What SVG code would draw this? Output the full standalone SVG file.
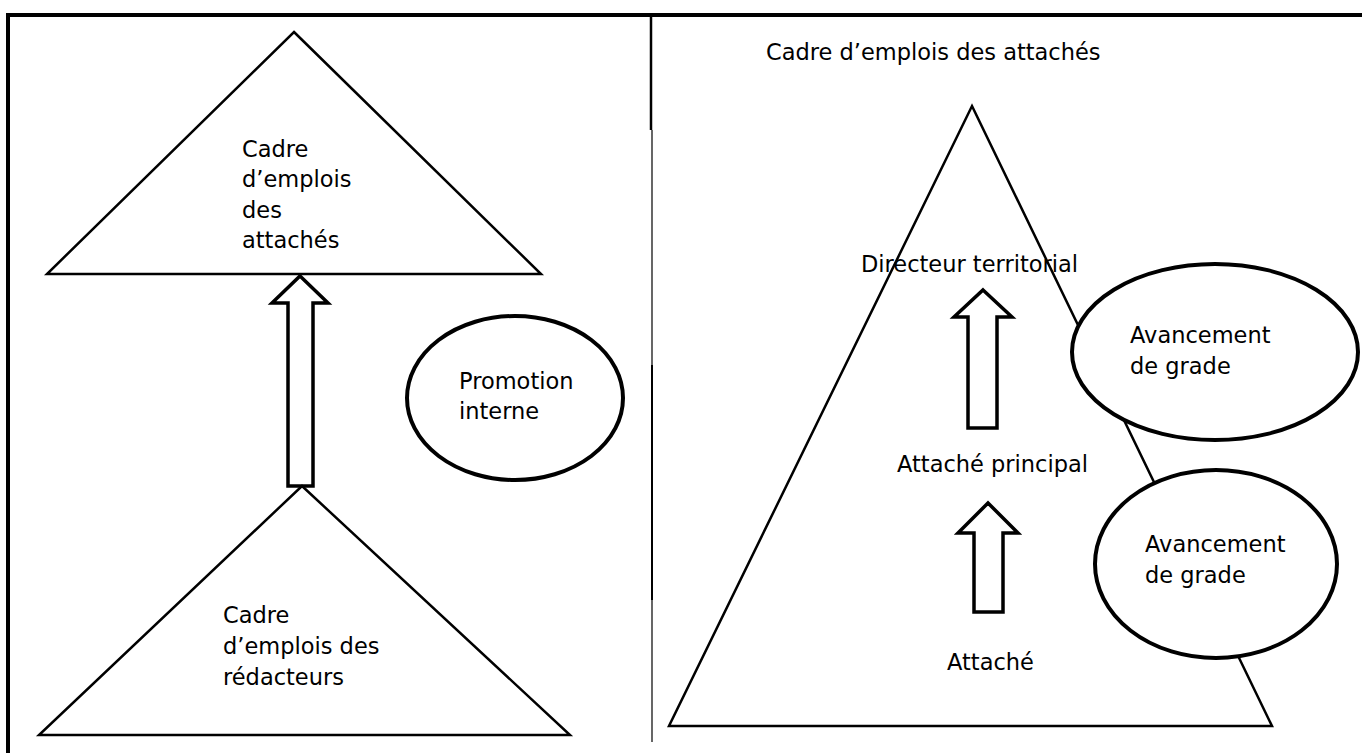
<svg xmlns="http://www.w3.org/2000/svg" width="1362" height="753" viewBox="0 0 1362 753">
<style>
.t{font-family:"DejaVu Sans","Noto Sans",sans-serif;font-size:22.5px;fill:#000}
.tri{fill:none;stroke:#000;stroke-width:2.5;stroke-linejoin:miter}
.ell{fill:#fff;stroke:#000;stroke-width:4}
.arr{fill:#fff;stroke:#000;stroke-width:3.5;stroke-linejoin:miter}
.div{stroke:#000}
</style>
<rect x="0" y="0" width="1362" height="753" fill="#fff"/>
<g id="frame">
<line x1="6" y1="15" x2="1362" y2="15" stroke="#000" stroke-width="4"/>
<line x1="8" y1="13" x2="8" y2="753" stroke="#000" stroke-width="4"/>
<line class="div" x1="651" y1="17" x2="651" y2="130" stroke-width="2.5"/>
<line class="div" x1="652" y1="130" x2="652" y2="365" stroke-width="1.2" stroke="#444"/>
<line class="div" x1="652" y1="365" x2="652" y2="600" stroke-width="2"/>
<line class="div" x1="652" y1="600" x2="652" y2="742" stroke-width="1.2" stroke="#444"/>
</g>
<g id="connectors">
<path class="arr" d="M300,276 L328,303 L313,303 L313,486 L288,486 L288,303 L272,303 Z"/>
<path class="arr" d="M983,290 L1012,317 L997,317 L997,428 L968,428 L968,317 L954,317 Z"/>
<path class="arr" d="M988,503 L1018,533 L1003,533 L1003,612 L974,612 L974,533 L958,533 Z"/>
</g>
<g id="attaches-left">
<polygon class="tri" points="294,32 541,274 47,274"/>
<text class="t" x="242" y="157">Cadre</text>
<text class="t" x="242" y="187">d’emplois</text>
<text class="t" x="242" y="218">des</text>
<text class="t" x="242" y="248">attachés</text>
</g>
<g id="redacteurs">
<polygon class="tri" points="302,486 570,735 39,735"/>
<text class="t" x="223" y="623">Cadre</text>
<text class="t" x="223" y="654">d’emplois des</text>
<text class="t" x="223" y="685">rédacteurs</text>
</g>
<g id="promotion">
<ellipse class="ell" cx="515" cy="398" rx="108" ry="82"/>
<text class="t" x="459" y="389">Promotion</text>
<text class="t" x="459" y="419">interne</text>
</g>
<g id="title">
<text class="t" x="766" y="60">Cadre d’emplois des attachés</text>
</g>
<g id="pyramide">
<polygon class="tri" points="972,106 1272,726 669,726"/>
<text class="t" x="861" y="272">Directeur territorial</text>
<text class="t" x="897" y="472">Attaché principal</text>
<text class="t" x="947" y="670">Attaché</text>
</g>
<g id="avancement1">
<ellipse class="ell" cx="1215" cy="352" rx="143" ry="88"/>
<text class="t" x="1130" y="343">Avancement</text>
<text class="t" x="1130" y="374">de grade</text>
</g>
<g id="avancement2">
<ellipse class="ell" cx="1216" cy="564" rx="121" ry="94"/>
<text class="t" x="1145" y="552">Avancement</text>
<text class="t" x="1145" y="583">de grade</text>
</g>
</svg>
